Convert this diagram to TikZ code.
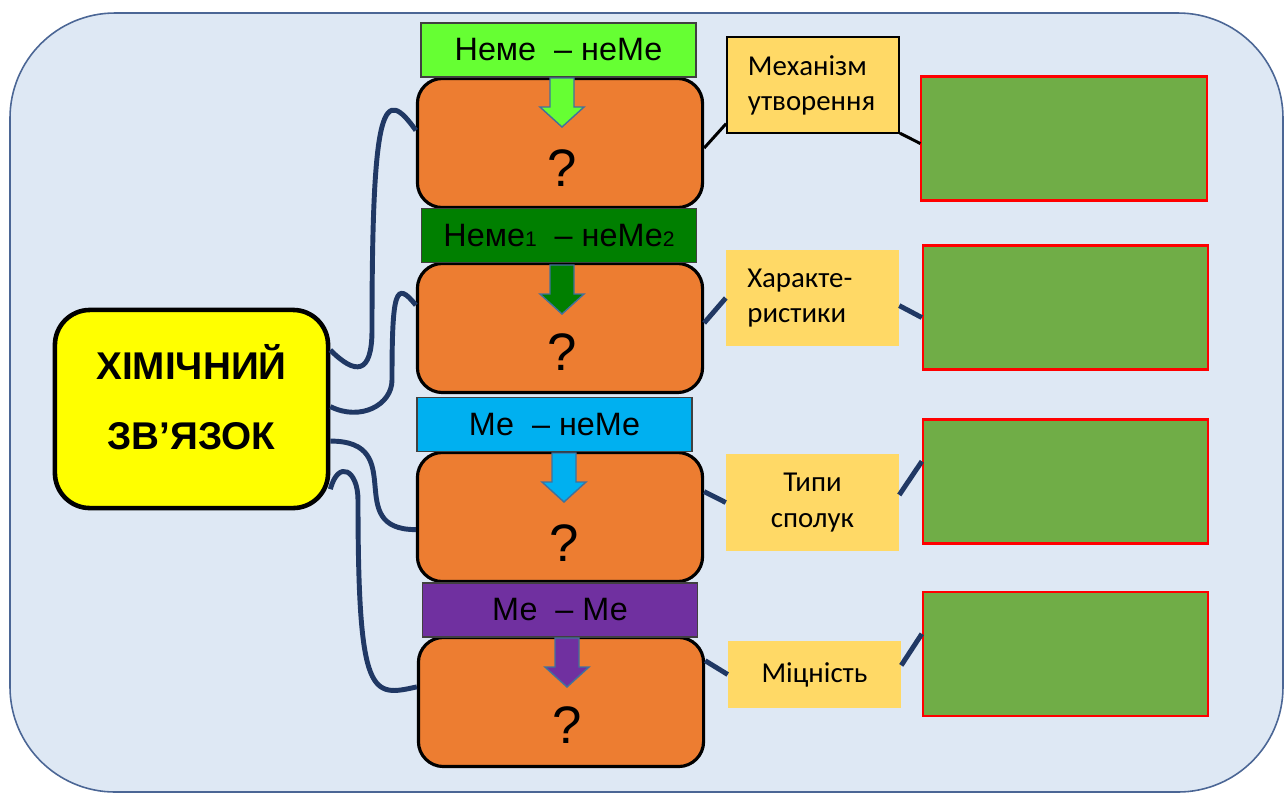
\documentclass[tikz,border=0pt]{standalone}
\usepackage{fontspec}
\setmainfont{Liberation Sans}
\newfontfamily\calibri{Carlito}
\usetikzlibrary{positioning}
\definecolor{bgblue}{HTML}{DEE8F4}
\definecolor{bgedge}{HTML}{4B6695}
\definecolor{hubyellow}{HTML}{FFFF00}
\definecolor{qorange}{HTML}{ED7D31}
\definecolor{tabgreen}{HTML}{66FF33}
\definecolor{tabdark}{HTML}{007F00}
\definecolor{tabblue}{HTML}{00B0F0}
\definecolor{tabviolet}{HTML}{7030A0}
\definecolor{topicyellow}{HTML}{FFD966}
\definecolor{answergreen}{HTML}{70AD47}
\definecolor{linknavy}{HTML}{203864}
\definecolor{arrowedge}{HTML}{41719C}
\tikzset{hub/.style={draw,line width=1.3pt,fill=hubyellow,rounded corners=0.35cm,minimum width=2.73cm,minimum height=1.98cm},
         hubtext/.style={align=center,inner sep=0pt,font=\fontsize{11}{20}\selectfont\bfseries},
         qbox/.style={draw,line width=0.9pt,fill=qorange,rounded corners=0.25cm,minimum width=2.85cm,minimum height=1.29cm},
         qmark/.style={inner sep=0pt,font=\fontsize{15}{15}\selectfont},
         tab/.style={draw=black!75,line width=0.5pt,minimum width=2.75cm,minimum height=0.54cm,inner sep=0pt,font=\fontsize{9.2}{11}\selectfont},
         topic/.style={fill=topicyellow,minimum width=1.72cm,minimum height=0.96cm,inner sep=0pt,align=center,font=\calibri\fontsize{8.2}{10}\selectfont},
         answer/.style={draw=red,line width=0.6pt,fill=answergreen,minimum width=2.85cm,minimum height=1.24cm},
         link/.style={draw=linknavy,line width=1.4pt},
         thinlink/.style={draw=black,line width=0.85pt},
         blockarrow/.style={draw=arrowedge,line width=0.4pt},
        }
\newcommand{\idx}[1]{{\fontsize{6}{6}\selectfont #1}}

\begin{document}
\begin{tikzpicture}[x=0.01cm,y=-0.01cm]
        \useasboundingbox (0,0) rectangle (1284,793);
        \draw[draw=bgedge,line width=0.45pt,fill=bgblue,rounded corners=1.05cm](10,13)rectangle(1283,792);

        % central box
        \node[hub](hub)at(191.5,409){};
        \node[hubtext](hubt)at(191.5,397){ХІМІЧНИЙ\\ЗВ’ЯЗОК};

        % question boxes
        \node[qbox](q1)at(560,143){};
        \node[qbox](q2)at(560,328){};
        \node[qbox](q3)at(560,517){};
        \node[qbox](q4)at(561,702){};
        \node[qmark](m1)at(562,168){?};
        \node[qmark](m2)at(562,352){?};
        \node[qmark](m3)at(564,543){?};
        \node[qmark](m4)at(567,725){?};

        \node[tab,fill=tabgreen](t1)at(558.5,50){Неме\ \ – неМе};
        \node[tab,fill=tabdark](t2)at(559,235.5){Неме\idx{1}\ \ – неМе\idx{2}};
        \node[tab,fill=tabblue](t3)at(554.5,424.5){Ме\ \ – неМе};
        \node[tab,fill=tabviolet](t4)at(560,610){Ме\ \ – Ме};

        \foreach \ax/\ay/\col in {562/78/tabgreen,562/265/tabdark,564/453/tabblue,567/638/tabviolet}
            \draw[blockarrow,fill=\col](\ax-12,\ay)--(\ax+12,\ay)--(\ax+12,\ay+29)--(\ax+22,\ay+29)
                --(\ax,\ay+49)--(\ax-22,\ay+29)--(\ax-12,\ay+29)--cycle;

        % topics
        \node[topic,draw=black,line width=0.5pt,text width=1.30cm,align=left](p1)at(813,85){Механізм\\утворення};
        \node[topic,text width=1.30cm,align=left](p2)at(812.5,298){Характе-\\ристики};
        \node[topic](p3)at(812.5,502.5){Типи\\сполук};
        \node[topic,minimum height=0.67cm](p4)at(814.5,674.5){Міцність};

        \node[answer](g1)at(1064,138.5){};
        \node[answer](g2)at(1065.5,307.5){};
        \node[answer](g3)at(1065.5,481.5){};
        \node[answer](g4)at(1065.5,654){};

        % links from the central box
        \coordinate(bendA)at(372,330);
        \coordinate(bendB)at(392,380);
        \coordinate(bendD)at(358,500);
        \draw[link](hub.23)..controls +(25,25) and +(0,45)..(bendA)
            ..controls +(0,-230) and +(-32,-45)..(q1.175);
        \draw[link](hub.1)..controls +(30,15) and +(0,25)..(bendB)
            ..controls +(0,-90) and +(-20,-25)..(q2.171);
        \draw[link](hub.-13)..controls +(80,0) and +(-75,0)..(q3.185);
        \draw[link](hub.-30)..controls +(8,-30) and +(0,-30)..(bendD)
            ..controls +(0,200) and +(-45,10)..(q4.174);

        \draw[thinlink](q1.-2)--(p1.204);
        \draw[thinlink](p1.-29)--(g1.182);
        \draw[link](q2.2)--(p2.west);
        \draw[link](p2.-5)--(g2.184);
        \draw[link](q3.10)--(p3.west);
        \draw[link](p3.5)--(g3.172);
        \draw[link](q4.16)--(p4.west);
        \draw[link](p4.6)--(g4.172);
    \end{tikzpicture}
\end{document}
